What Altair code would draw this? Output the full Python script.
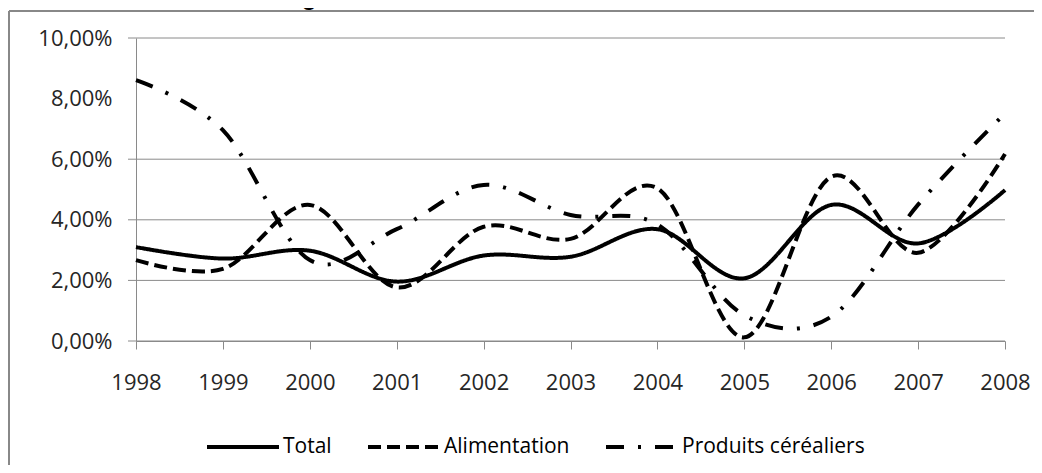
import altair as alt
import pandas as pd

# ---- data ----
years = list(range(1998, 2009))
total = [3.10, 2.72, 2.98, 1.96, 2.82, 2.78, 3.69, 2.07, 4.49, 3.22, 4.98]
alimentation = [2.67, 2.38, 4.49, 1.77, 3.77, 3.37, 5.04, 0.12, 5.42, 2.91, 6.17]
cereales = [8.61, 6.96, 2.67, 3.69, 5.15, 4.16, 3.85, 0.85, 0.80, 4.50, 7.51]
series_names = ["Total", "Alimentation", "Produits céréaliers"]
y_ticks = [0, 2, 4, 6, 8, 10]
grid_values = [0, 2, 4, 6, 10]
title_text = "Figure 2. Évolution du taux d'inflation en %"

rows = []
for name, vals in zip(series_names, [total, alimentation, cereales]):
    for yr, v in zip(years, vals):
        rows.append({"annee": yr, "valeur": v, "serie": name})
df = pd.DataFrame(rows)
grid_df = pd.DataFrame({"valeur": grid_values})
one = pd.DataFrame({"a": [0]})

W, H = 869, 303
PL, PT, PR, PB = 128, 30, 29, 124
FONT = "Open Sans"
GRAY = "#8a8a8a"

yscale = alt.Scale(domain=[0, 10], nice=False, zero=True)
xscale = alt.Scale(domain=[1998, 2008], nice=False, zero=False)

yaxis = alt.Axis(
    values=y_ticks, title=None, grid=False, ticks=False,
    domainColor=GRAY,
    labelExpr="replace(format(datum.value, '.2f'), '.', ',') + '%'",
    labelFont=FONT, labelFontSize=22, labelColor="#262626",
    labelBaseline="middle", labelPadding=24,
)

grid = alt.Chart(grid_df).mark_rule(color=GRAY, strokeWidth=1).encode(
    y=alt.Y("valeur:Q", scale=yscale, axis=yaxis),
    x=alt.value(-8),
    x2=alt.value(W),
)

frame_top = alt.Chart(one).mark_rule(color="#888888", strokeWidth=2).encode(
    x=alt.value(-127), x2=alt.value(W + PR + 10), y=alt.value(-27)
)
frame_left = alt.Chart(one).mark_rule(color="#888888", strokeWidth=2).encode(
    x=alt.value(-127), y=alt.value(-27), y2=alt.value(H + PB + 10)
)

title = alt.Chart(one).mark_text(
    text=title_text, font="Liberation Sans", fontWeight="bold", fontSize=25,
    align="center", baseline="alphabetic", color="black"
).encode(x=alt.value(399), y=alt.value(-33))

lines = alt.Chart(df).mark_line(
    interpolate="cardinal", strokeWidth=4, color="black"
).encode(
    x=alt.X("annee:Q", scale=xscale, axis=alt.Axis(
        values=years, format="d", title=None, grid=False,
        tickSize=8, tickColor=GRAY, domainColor=GRAY,
        labelFont=FONT, labelFontSize=22, labelColor="#262626",
        labelBaseline="middle", labelPadding=33, labelFlush=False,
    )),
    y=alt.Y("valeur:Q", scale=yscale, axis=yaxis),
    strokeDash=alt.StrokeDash("serie:N", scale=alt.Scale(
        domain=series_names, range=[[1, 0], [13, 6], [18, 14, 3, 14]]
    ), legend=alt.Legend(
        title=None, orient="none", legendX=69, legendY=371,
        direction="horizontal", symbolType="stroke", symbolSize=5184,
        symbolStrokeWidth=4, symbolStrokeColor="black",
        labelFont=FONT, labelFontSize=21, labelColor="black",
        labelOffset=2, columnPadding=28, labelLimit=0,
    )),
    order=alt.Order("annee:Q"),
)

chart = alt.layer(grid, frame_top, frame_left, lines, title).properties(
    width=W, height=H,
    autosize=alt.AutoSizeParams(type="none"),
    padding={"left": PL, "top": PT, "right": PR, "bottom": PB},
    background="white",
).configure_view(stroke=None)

chart.save("out.html", embed_options={"renderer": "svg", "actions": False})
